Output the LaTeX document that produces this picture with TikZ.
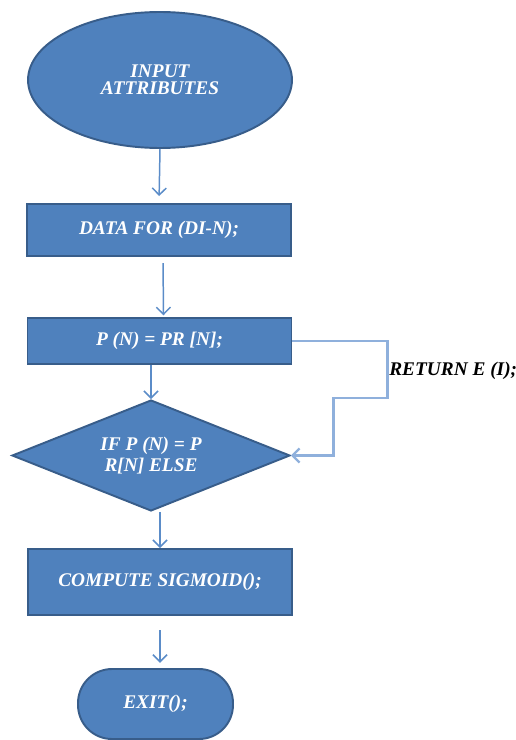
\documentclass[tikz,border=0pt]{standalone}
\usepackage{fontspec}
\setmainfont{Liberation Serif}
\usetikzlibrary{shapes.geometric,arrows.meta}
\definecolor{boxfill}{HTML}{4F81BD}
\definecolor{boxline}{HTML}{385D8A}
\definecolor{flow}{HTML}{5B8CC8}
\definecolor{loopline}{HTML}{8FB0DC}
\tikzset{
  shape base/.style={fill=boxfill, draw=boxline, line width=1.1pt, text=white,
    font=\fontsize{11}{11.5}\selectfont\bfseries\itshape, align=center, inner sep=1pt},
  procbox/.style={shape base, rectangle, minimum width=5.28cm},
  startoval/.style={shape base, ellipse, minimum width=5.28cm, minimum height=2.72cm},
  decision/.style={shape base, diamond, shape aspect=2.5, minimum width=5.56cm, minimum height=2.22cm},
  endcap/.style={shape base, rectangle, rounded corners=0.68cm, minimum width=3.1cm, minimum height=1.4cm},
  flowarrow/.style={draw=flow, line width=0.85pt, -{Straight Barb[length=4pt,width=8pt]}},
  looparrow/.style={draw=loopline, line width=1.3pt, -{Straight Barb[length=4pt,width=8pt]}},
  looplabel/.style={font=\fontsize{11}{12}\selectfont\bfseries\itshape, text=black, inner sep=0pt}
}
\begin{document}
\begin{tikzpicture}[x=0.02cm, y=-0.02cm]
\useasboundingbox (0,0) rectangle (516,740);

\node[startoval] (in) at (160,80) {INPUT\\[-2pt]ATTRIBUTES};
\node[procbox, minimum height=1.04cm] (data) at (159,230) {DATA FOR (DI-N);};
\node[procbox, minimum height=0.92cm] (p) at (159.5,341) {P (N) = PR [N];};
\node[decision] (dia) at (151,455.5) {IF P (N) = P\\R[N] ELSE};
\node[procbox, minimum height=1.32cm] (comp) at (160,582) {COMPUTE SIGMOID();};
\node[endcap] (exit) at (155.5,704) {EXIT();};
\node[looplabel, anchor=west] (ret) at (389,371) {RETURN E (I);};

\draw[flowarrow, shorten >=4pt] (in.south) -- (data.north);
\draw[flowarrow, shorten <=3.5pt, shorten >=1pt] ([xshift=0.08cm]data.south) -- ([xshift=0.08cm]p.north);
\draw[flowarrow] (p.south -| dia.north) -- (dia.north);
\draw[flowarrow] (comp.north |- dia.south) -- (comp.north);
\draw[flowarrow, shorten <=8pt, shorten >=3pt] (comp.south) -- (comp.south |- exit.north);
\draw[looparrow] (p.east) -- ++(95,0) -- ++(0,57) -- ++(-54,0) |- (dia.east);
\end{tikzpicture}
\end{document}
